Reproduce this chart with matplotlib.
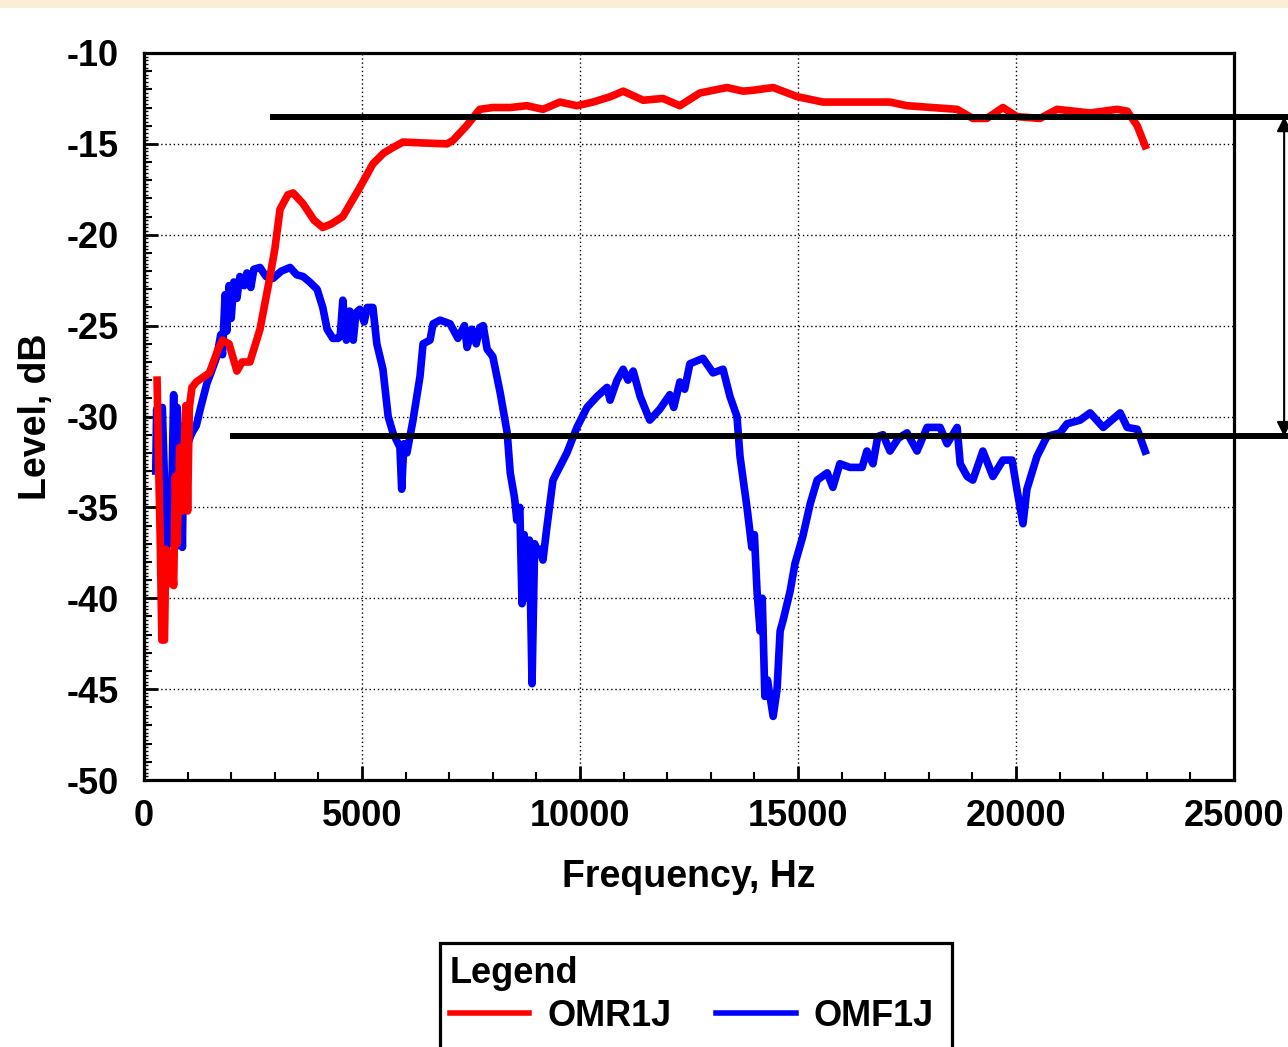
import numpy as np
import matplotlib
matplotlib.use('Agg')
import matplotlib.pyplot as plt
from matplotlib.lines import Line2D
from matplotlib.patches import Rectangle

# Datos: frecuencia [Hz] y nivel [dB]
omr_f = [300, 330, 370, 410, 470, 500, 560, 620, 680, 720, 760, 820, 870, 920, 960,
         1000, 1040, 1100, 1200, 1500, 1700, 1800, 1950, 2130, 2250, 2430, 2660, 2890,
         3000, 3120, 3300, 3420, 3650, 3900, 4100, 4300, 4560, 4950, 5250, 5500, 5710,
         5940, 6400, 6950, 7090, 7400, 7700, 8000, 8400, 8780, 9150, 9540, 9930, 10300,
         10700, 10990, 11450, 11900, 12290, 12750, 13370, 13740, 13970, 14430, 14980,
         15570, 17110, 17500, 18650, 19010, 19330, 19700, 20020, 20550, 20940, 21700,
         22320, 22550, 22780, 22960]
omr_db = [-28.0, -32.0, -36.5, -42.3, -42.3, -37.3, -39.2, -37.5, -39.3, -33.3, -37.0,
          -31.7, -35.2, -31.8, -29.4, -35.2, -29.5, -28.4, -28.1, -27.6, -26.3, -25.8,
          -26.0, -27.5, -27.0, -27.0, -25.2, -22.3, -20.8, -18.6, -17.8, -17.7, -18.3,
          -19.2, -19.6, -19.4, -19.0, -17.4, -16.1, -15.5, -15.2, -14.9, -14.95, -15.0,
          -14.8, -14.0, -13.1, -13.0, -13.0, -12.9, -13.1, -12.7, -12.9, -12.7, -12.4,
          -12.1, -12.6, -12.5, -12.9, -12.2, -11.9, -12.1, -12.05, -11.9, -12.4, -12.7,
          -12.7, -12.9, -13.1, -13.6, -13.6, -13.0, -13.5, -13.6, -13.1, -13.3, -13.1,
          -13.2, -14.0, -15.1]

omf_f = [270, 290, 350, 420, 470, 520, 560, 620, 680, 720, 760, 800, 840, 880, 920,
         1000, 1100, 1200, 1300, 1440, 1550, 1670, 1760, 1800, 1860, 1900, 1950, 2000,
         2060, 2130, 2200, 2300, 2360, 2450, 2520, 2660, 2800, 2960, 3150, 3350, 3500,
         3650, 3800, 3970, 4100, 4200, 4330, 4450, 4500, 4560, 4640, 4720, 4800, 4860,
         4950, 5050, 5120, 5250, 5340, 5480, 5600, 5710, 5870, 5910, 5960, 6030, 6170,
         6330, 6400, 6560, 6630, 6790, 7020, 7200, 7350, 7410, 7520, 7620, 7700, 7780,
         7870, 8000, 8170, 8330, 8400, 8500, 8550, 8620, 8670, 8720, 8780, 8840, 8900,
         8960, 9010, 9080, 9150, 9240, 9380, 9700, 9930, 10160, 10390, 10620, 10690,
         10850, 10990, 11100, 11220, 11380, 11600, 11830, 12060, 12150, 12290, 12400,
         12520, 12820, 13050, 13280, 13440, 13600, 13670, 13830, 13940, 14000, 14060,
         14130, 14180, 14240, 14300, 14430, 14520, 14590, 14660, 14820, 14930, 15110,
         15280, 15440, 15670, 15800, 15960, 16190, 16470, 16580, 16720, 16830, 16950,
         17110, 17300, 17500, 17730, 17960, 18260, 18420, 18650, 18720, 18880, 19010,
         19240, 19470, 19700, 19910, 20020, 20160, 20250, 20480, 20710, 21010, 21170,
         21470, 21700, 22000, 22390, 22550, 22780, 22960]
omf_db = [-33.0, -29.6, -31.0, -29.5, -33.5, -37.2, -33.8, -36.5, -28.8, -37.2, -29.5,
          -32.0, -30.8, -37.2, -30.5, -31.5, -30.9, -30.5, -29.5, -28.2, -27.5, -26.7,
          -25.5, -26.6, -23.3, -25.3, -22.8, -24.6, -22.6, -23.5, -22.3, -22.8, -22.1,
          -22.9, -21.9, -21.8, -22.3, -22.4, -22.0, -21.8, -22.2, -22.3, -22.6, -23.0,
          -24.0, -25.2, -25.7, -25.7, -25.6, -23.6, -25.8, -24.2, -25.8, -24.3, -24.1,
          -24.8, -24.0, -24.0, -26.0, -27.4, -30.0, -30.9, -31.7, -34.0, -31.5, -32.0,
          -30.2, -27.8, -26.0, -25.8, -24.9, -24.7, -24.9, -25.7, -25.0, -26.2, -25.2,
          -26.0, -25.1, -25.0, -26.3, -26.7, -28.7, -30.9, -33.1, -34.5, -35.7, -35.0,
          -40.3, -36.5, -40.0, -36.8, -44.7, -37.0, -37.4, -37.3, -37.9, -36.1, -33.5,
          -32.0, -30.6, -29.5, -28.9, -28.4, -29.1, -28.0, -27.4, -28.0, -27.5, -28.9,
          -30.2, -29.6, -28.8, -29.5, -28.1, -28.5, -27.1, -26.8, -27.6, -27.4, -28.9,
          -30.0, -32.2, -35.0, -37.2, -36.5, -39.6, -41.8, -40.0, -45.4, -44.5, -46.5,
          -45.0, -41.8, -41.2, -39.6, -38.1, -36.6, -34.8, -33.5, -33.1, -33.9, -32.6,
          -32.8, -32.8, -31.9, -32.6, -31.1, -31.0, -31.9, -31.2, -30.9, -31.9, -30.6,
          -30.6, -31.5, -30.6, -32.6, -33.3, -33.5, -31.9, -33.3, -32.4, -32.4, -34.0,
          -35.9, -34.0, -32.2, -31.1, -30.9, -30.4, -30.2, -29.8, -30.6, -29.8, -30.6,
          -30.7, -31.9]

# Lineas de referencia (nivel, frecuencia inicial)
ref_nivel = [-13.5, -31.1]
ref_inicio = [2890, 1970]
ref_fin = 26300
flecha_f = 26150

etiquetas = ['OMR1J', 'OMF1J']
colores = ['#ff0000', '#0000ff']

plt.rcParams['font.family'] = ['Liberation Sans', 'DejaVu Sans']
plt.rcParams['font.weight'] = 'bold'
plt.rcParams['axes.unicode_minus'] = False

W, H = 1288, 1047
fig = plt.figure(figsize=(W / 100, H / 100), dpi=100)
fig.patch.set_facecolor('white')
ax = fig.add_axes([144 / W, 1 - 780 / H, (1234 - 144) / W, (780 - 53) / H])

# Franja beige superior
fig.add_artist(Rectangle((0, 1 - 8 / H), 1, 8 / H, transform=fig.transFigure,
                         facecolor='#fbeed6', edgecolor='none'))

ax.plot(omf_f, omf_db, color=colores[1], lw=5.5, zorder=3)
ax.plot(omr_f, omr_db, color=colores[0], lw=5.5, zorder=4)

for nivel, inicio in zip(ref_nivel, ref_inicio):
    ax.plot([inicio, ref_fin], [nivel, nivel], color='black', lw=4.3,
            clip_on=False, zorder=5, solid_capstyle='butt')
ax.annotate('', xy=(flecha_f, ref_nivel[0]), xytext=(flecha_f, ref_nivel[1]),
            annotation_clip=False,
            arrowprops=dict(arrowstyle='<|-|>', color='black', lw=1.5,
                            mutation_scale=22, shrinkA=0, shrinkB=0))

ax.set_xlim(0, 25000)
ax.set_ylim(-50, -10)
ax.set_xticks(np.arange(0, 25001, 5000))
ax.set_yticks(np.arange(-50, -9, 5))
ax.set_xticks(np.arange(0, 25001, 1000), minor=True)
ax.set_yticks(np.arange(-50, -9, 1), minor=True)
ax.grid(True, which='major', color='black', linestyle=(0, (1, 2)), lw=1.0)

for s in ax.spines.values():
    s.set_linewidth(2.3)

ax.tick_params(which='major', direction='in', length=10, width=2, labelsize=26,
               pad=14)
ax.tick_params(which='minor', direction='in', length=6, width=1.5)
ax.tick_params(axis='y', which='major', pad=18)

# Marcas finas cada 0.2 dB sobre el eje Y
sec = ax.secondary_yaxis('left')
sec.set_yticks(np.arange(-50, -9.9, 0.2))
sec.tick_params(direction='in', length=3, width=1, labelleft=False)
sec.spines['left'].set_visible(False)

ax.set_xlabel('Frequency, Hz', fontsize=27, fontweight='bold', labelpad=18)
ax.set_ylabel('Level, dB', fontsize=27, fontweight='bold', labelpad=9)

# Recuadro de la leyenda (cortado por el borde inferior)
fig.add_artist(Rectangle((440 / W, -0.02), (952 - 440) / W, 0.02 + (1047 - 943) / H,
                         transform=fig.transFigure, facecolor='white',
                         edgecolor='black', lw=2.3, clip_on=False))

handles = [Line2D([], [], color=c, lw=4) for c in colores]
leg = fig.legend(handles, etiquetas, loc='upper left',
                 bbox_to_anchor=(446 / W, 1 - 952 / H), ncol=2, title='Legend',
                 alignment='left', fontsize=26,
                 title_fontproperties={'weight': 'bold', 'size': 26},
                 frameon=False, handlelength=2.2, handletextpad=0.5,
                 columnspacing=1.25, borderpad=0.1, labelspacing=0.2,
                 borderaxespad=0)
leg._legend_box.sep = 6

fig.savefig('out.png', dpi=100)
